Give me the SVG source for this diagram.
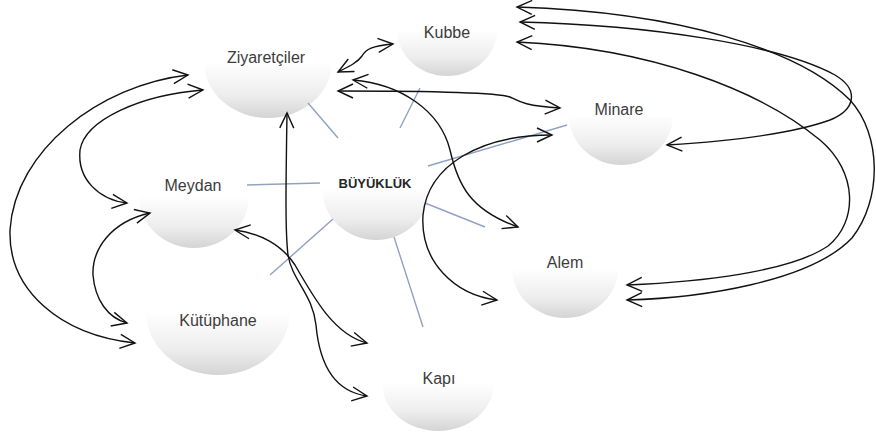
<svg xmlns="http://www.w3.org/2000/svg" width="876" height="435" viewBox="0 0 876 435">
<style>
.node{fill:url(#g)}
.lbl{font-family:"Liberation Sans",Arial,sans-serif;font-size:16px;fill:#3c3c3c;text-anchor:middle}
.main{font-weight:bold;font-size:13px;fill:#262626}
.blue{stroke:#8fa2c2;stroke-width:1.4;fill:none}
.arr{stroke:#111;stroke-width:1.4;fill:none;marker-start:url(#ah);marker-end:url(#ah)}
</style>
<defs>
<linearGradient id="g" x1="0" y1="0" x2="0" y2="1">
<stop offset="0" stop-color="#ffffff"/>
<stop offset="0.5" stop-color="#ffffff"/>
<stop offset="0.8" stop-color="#ededed"/>
<stop offset="1" stop-color="#d4d4d4"/>
</linearGradient>
<marker id="ah" markerUnits="userSpaceOnUse" markerWidth="18" markerHeight="18" viewBox="0 0 18 18" refX="16" refY="9" orient="auto-start-reverse">
<path d="M1,2 L16,9 L1,16" fill="none" stroke="#111" stroke-width="1.4"/>
</marker>
</defs>
<rect width="876" height="435" fill="#ffffff"/>
<g id="node-ziyaretciler"><ellipse class="node" cx="268" cy="62" rx="64" ry="56"/><text class="lbl" x="266" y="63">Ziyaretçiler</text></g>
<g id="node-kubbe"><ellipse class="node" cx="447" cy="30" rx="50" ry="46"/><text class="lbl" x="447" y="38">Kubbe</text></g>
<g id="node-buyukluk"><ellipse class="node" cx="376" cy="188" rx="54" ry="52"/><text class="lbl main" x="375" y="188">BÜYÜKLÜK</text></g>
<g id="node-meydan"><ellipse class="node" cx="194" cy="196" rx="55" ry="52"/><text class="lbl" x="193" y="191">Meydan</text></g>
<g id="node-minare"><ellipse class="node" cx="621" cy="115" rx="52" ry="50"/><text class="lbl" x="619" y="115">Minare</text></g>
<g id="node-alem"><ellipse class="node" cx="565" cy="268" rx="53" ry="50"/><text class="lbl" x="565" y="268">Alem</text></g>
<g id="node-kutuphane"><ellipse class="node" cx="218" cy="312" rx="72" ry="63"/><text class="lbl" x="218" y="326">Kütüphane</text></g>
<g id="node-kapi"><ellipse class="node" cx="438" cy="383" rx="56" ry="48"/><text class="lbl" x="439" y="384">Kapı</text></g>
<g id="connectors">
<line class="blue" x1="308" y1="103" x2="338" y2="138"/>
<line class="blue" x1="420" y1="88" x2="400" y2="128"/>
<line class="blue" x1="428" y1="166" x2="567" y2="125"/>
<line class="blue" x1="247" y1="185" x2="320" y2="183"/>
<line class="blue" x1="425" y1="203" x2="485" y2="227"/>
<line class="blue" x1="333" y1="219" x2="270" y2="275"/>
<line class="blue" x1="394" y1="237" x2="423" y2="327"/>
<path class="arr" d="M338,72 C350,66 358,62 362,56 C366,49 372,46 393,44"/>
<path class="arr" d="M338,91 C420,91 495,92 510,97 C518,101 525,106 560,108"/>
<path class="arr" d="M353,80 C400,84 440,110 450,150 C458,185 470,210 518,227"/>
<path class="arr" d="M552,135 C480,135 428,165 423,215 C420,262 455,295 497,300"/>
<path class="arr" d="M517,7 C680,12 800,50 850,100 C882,135 882,200 852,238 C810,282 700,298 627,300"/>
<path class="arr" d="M520,22 C650,25 780,45 835,75 C860,90 855,110 830,120 C780,138 700,143 667,145"/>
<path class="arr" d="M517,42 C650,48 760,90 820,140 C858,172 858,222 828,246 C790,272 700,282 627,285"/>
<path class="arr" d="M188,75 C100,85 15,150 10,230 C8,290 60,335 135,343"/>
<path class="arr" d="M203,90 C140,95 85,120 80,150 C77,180 100,200 127,203"/>
<path class="arr" d="M150,213 C110,222 92,250 93,275 C95,300 108,318 127,323"/>
<path class="arr" d="M287,113 C286,180 285,230 288,255 C292,280 313,295 316,325 C320,370 338,392 367,396"/>
<path class="arr" d="M235,230 C260,233 282,245 295,265 C315,300 335,335 367,343"/>
</g>
</svg>
